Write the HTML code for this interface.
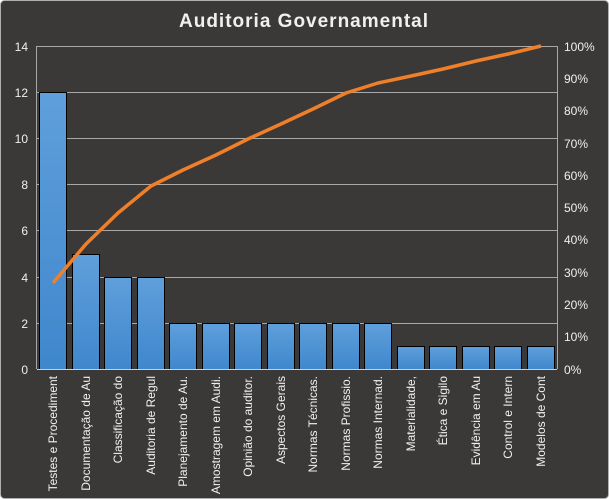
<!DOCTYPE html>
<html><head><style>
body{margin:0;background:#fff}
svg{display:block}
text{font-family:"Liberation Sans",sans-serif;fill:#f0f0f0}
</style></head><body>
<svg width="609" height="499" xmlns="http://www.w3.org/2000/svg">
<rect x="0.5" y="0.5" width="608" height="498" rx="4" fill="#3a3937" stroke="#b0b0b0"/>
<text x="304" y="27" text-anchor="middle" font-size="19" font-weight="bold" letter-spacing="1">Auditoria  Governamental</text>
<g stroke="#a8a8a8" stroke-width="1">
<line x1="37" y1="46.5" x2="557" y2="46.5"/>
<line x1="37" y1="92.5" x2="557" y2="92.5"/>
<line x1="37" y1="138.5" x2="557" y2="138.5"/>
<line x1="37" y1="184.5" x2="557" y2="184.5"/>
<line x1="37" y1="230.5" x2="557" y2="230.5"/>
<line x1="37" y1="277.5" x2="557" y2="277.5"/>
<line x1="37" y1="323.5" x2="557" y2="323.5"/>
<line x1="36.5" y1="46" x2="36.5" y2="369"/>
<line x1="557.5" y1="46" x2="557.5" y2="369"/>
</g>
<defs><linearGradient id="g" x1="0" y1="0" x2="0" y2="1"><stop offset="0" stop-color="#5f9fdb"/><stop offset="1" stop-color="#3f87cc"/></linearGradient></defs>
<g fill="url(#g)" stroke="#000" stroke-width="1">
<rect x="39.5" y="92.5" width="27" height="277"/>
<rect x="72.5" y="254.5" width="27" height="115"/>
<rect x="104.5" y="277.5" width="27" height="92"/>
<rect x="137.5" y="277.5" width="27" height="92"/>
<rect x="169.5" y="323.5" width="27" height="46"/>
<rect x="202.5" y="323.5" width="27" height="46"/>
<rect x="234.5" y="323.5" width="27" height="46"/>
<rect x="267.5" y="323.5" width="27" height="46"/>
<rect x="299.5" y="323.5" width="27" height="46"/>
<rect x="332.5" y="323.5" width="27" height="46"/>
<rect x="364.5" y="323.5" width="27" height="46"/>
<rect x="397.5" y="346.5" width="27" height="23"/>
<rect x="429.5" y="346.5" width="27" height="23"/>
<rect x="462.5" y="346.5" width="27" height="23"/>
<rect x="494.5" y="346.5" width="27" height="23"/>
<rect x="527.5" y="346.5" width="27" height="23"/>
</g>
<line x1="37" y1="369.5" x2="557" y2="369.5" stroke="#d0d0d0"/>
<polyline fill="none" stroke="#f07f2a" stroke-width="3.5" stroke-linejoin="round" points="53,283 86,244 118,213 151,186 183,170 216,155 248,139 281,124 313,109 346,93 378,83 411,76 443,69 476,61 508,54 541,46"/>
<g font-size="12" text-anchor="end">
<text x="28" y="51">14</text><text x="28" y="97">12</text><text x="28" y="143">10</text><text x="28" y="189">8</text><text x="28" y="235">6</text><text x="28" y="282">4</text><text x="28" y="328">2</text><text x="28" y="374">0</text>
</g>
<g font-size="12">
<text x="564" y="51">100%</text><text x="564" y="83">90%</text><text x="564" y="115">80%</text><text x="564" y="148">70%</text><text x="564" y="180">60%</text><text x="564" y="212">50%</text><text x="564" y="244">40%</text><text x="564" y="277">30%</text><text x="564" y="309">20%</text><text x="564" y="341">10%</text><text x="564" y="374">0%</text>
</g>
<g font-size="12" text-anchor="end">
<text transform="translate(57,376) rotate(-90)">Testes e Procediment</text>
<text transform="translate(90,376) rotate(-90)">Documentação de Au</text>
<text transform="translate(122,376) rotate(-90)">Classificação do</text>
<text transform="translate(155,376) rotate(-90)">Auditoria de Regul</text>
<text transform="translate(187,376) rotate(-90)">Planejamento de Au.</text>
<text transform="translate(220,376) rotate(-90)">Amostragem em Audi.</text>
<text transform="translate(252,376) rotate(-90)">Opinião do auditor.</text>
<text transform="translate(285,376) rotate(-90)">Aspectos Gerais</text>
<text transform="translate(317,376) rotate(-90)">Normas Técnicas.</text>
<text transform="translate(350,376) rotate(-90)">Normas Profissio.</text>
<text transform="translate(382,376) rotate(-90)">Normas Internad.</text>
<text transform="translate(415,376) rotate(-90)">Materialidade,</text>
<text transform="translate(447,376) rotate(-90)">Ética e Sigilo</text>
<text transform="translate(480,376) rotate(-90)">Evidência em Au</text>
<text transform="translate(512,376) rotate(-90)">Control e Intern</text>
<text transform="translate(545,376) rotate(-90)">Modelos de Cont</text>
</g>
</svg>
</body></html>
